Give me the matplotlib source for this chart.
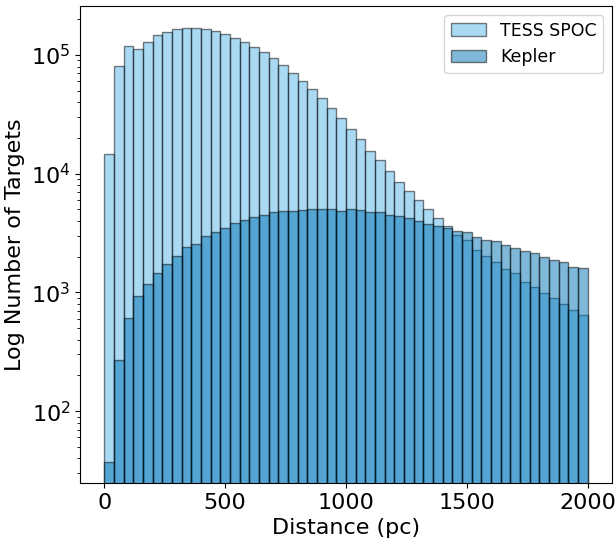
import numpy as np
import matplotlib
matplotlib.use("Agg")
import matplotlib.pyplot as plt

# Histogram bins: 50 bins of 40 pc from 0 to 2000 pc
bin_edges = np.linspace(0, 2000, 51)

tess_counts = [
    14660, 81300, 119800, 112400, 129500, 146500, 157100, 166600, 169900, 168000,
    164800, 158500, 150400, 140000, 128800, 117500, 105900, 93700, 81900, 71000,
    60700, 51400, 43200, 35600, 29500, 23800, 19500, 15600, 13000, 10600,
    8560, 7190, 6000, 5070, 4210, 3620, 3030, 2760, 2260, 2010,
    1790, 1570, 1450, 1220, 1120, 982, 891, 794, 715, 641,
]

kepler_counts = [
    37.5, 271, 605, 927, 1178, 1449, 1726, 2040, 2400, 2572,
    2970, 3210, 3470, 3870, 4050, 4290, 4530, 4730, 4820, 4850,
    4920, 5070, 5070, 5010, 4880, 5010, 4920, 4730, 4760, 4470,
    4410, 4240, 3960, 3770, 3650, 3490, 3310, 3250, 2950, 2780,
    2710, 2520, 2380, 2220, 2150, 2000, 1890, 1800, 1630, 1610,
]

series_labels = ["TESS SPOC", "Kepler"]
x_label = "Distance (pc)"
y_label = "Log Number of Targets"

bin_centers = 0.5 * (bin_edges[:-1] + bin_edges[1:])

fig = plt.figure(figsize=(6.16, 5.39), dpi=100)
ax = fig.add_axes([80 / 616, 1 - 483 / 539, 532 / 616, 477 / 539])

ax.hist(bin_centers, bins=bin_edges, weights=tess_counts, log=True,
        color="#56B4E9", alpha=0.5, edgecolor="black", linewidth=1,
        label=series_labels[0])
ax.hist(bin_centers, bins=bin_edges, weights=kepler_counts, log=True,
        color="#0072B2", alpha=0.5, edgecolor="black", linewidth=1,
        label=series_labels[1])

ax.set_xlim(-100, 2100)
ax.set_ylim(24.8, 2.59e5)
ax.set_xticks([0, 500, 1000, 1500, 2000])
ax.tick_params(axis="both", which="major", labelsize=16)
ax.set_xlabel(x_label, fontsize=16)
ax.set_ylabel(y_label, fontsize=16)
ax.legend(loc="upper right", fontsize=12.5)

fig.savefig("out.png", dpi=100)
